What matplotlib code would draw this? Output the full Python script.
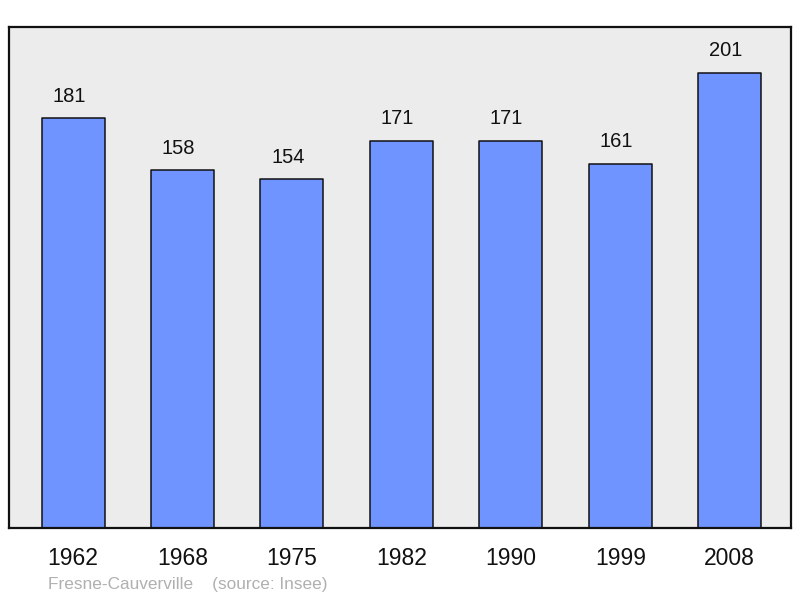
import matplotlib
matplotlib.use("Agg")
import matplotlib.pyplot as plt

years = ["1962", "1968", "1975", "1982", "1990", "1999", "2008"]
population = [181, 158, 154, 171, 171, 161, 201]
footer = "Fresne-Cauverville    (source: Insee)"

plt.rcParams['font.family'] = ['Liberation Sans', 'DejaVu Sans']

fig = plt.figure(figsize=(8, 5.98), dpi=100)
ax = fig.add_axes([9/800, 70/598, 782/800, 501/598])
ax.set_facecolor('#ececec')

x = list(range(len(years)))
ax.bar(x, population, width=0.576, color='#7094ff', edgecolor='#111111', linewidth=1.1, joinstyle='round')
for xi, v in zip(x, population):
    ax.annotate(str(v), (xi, v), xytext=(-3, 9), textcoords='offset points',
                ha='center', va='bottom', fontsize=14.5, color='#111111')

ax.set_xlim(-0.585, 6.56)
ax.set_ylim(0, 221.3)
ax.set_yticks([])
ax.set_xticks(x)
ax.set_xticklabels(years, fontsize=16.5, color='#111111')
ax.tick_params(axis='x', length=0, pad=14)
for s in ax.spines.values():
    s.set_linewidth(1.6)
    s.set_color('#111111')

fig.text(48/800, 1 - 584/598, footer, fontsize=12.4, color='#b0b0b0', va='center', ha='left')

fig.savefig('out.png', dpi=100)
